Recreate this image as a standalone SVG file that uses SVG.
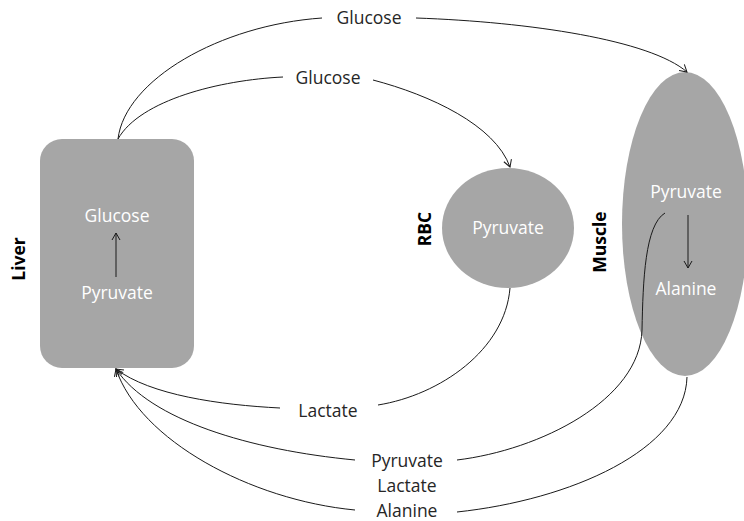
<svg xmlns="http://www.w3.org/2000/svg" width="744" height="521" viewBox="0 0 744 521">
<defs>
<style>
.shape{fill:#a6a6a6;}
.in{font-family:"Open Sans","Liberation Sans",sans-serif;font-size:17.5px;fill:#ffffff;text-anchor:middle;}
.lbl{font-family:"Open Sans","Liberation Sans",sans-serif;font-size:17.5px;fill:#262626;text-anchor:middle;}
.name{font-family:"Open Sans","Liberation Sans",sans-serif;font-size:17.5px;font-weight:bold;fill:#000;text-anchor:middle;}
.c{fill:none;stroke:#1a1a1a;stroke-width:1;}
</style>
<marker id="ah" markerWidth="12" markerHeight="12" refX="0" refY="0" viewBox="-8 -6 10 12" orient="auto" markerUnits="userSpaceOnUse">
<path d="M-7,-4 L0,0 L-7,4" fill="none" stroke="#1a1a1a" stroke-width="1"/>
</marker>
</defs>
<g id="liver">
<rect class="shape" x="40" y="139" width="154" height="229" rx="22"/>
<text class="in" x="117" y="222">Glucose</text>
<text class="in" x="117" y="299">Pyruvate</text>
<line class="c" x1="116" y1="277" x2="116" y2="233" marker-end="url(#ah)"/>
<text class="name" transform="translate(25,259) rotate(-90)">Liver</text>
</g>
<g id="rbc">
<ellipse class="shape" cx="508" cy="228" rx="66" ry="60"/>
<text class="in" x="508" y="234">Pyruvate</text>
<text class="name" transform="translate(431,229) rotate(-90)">RBC</text>
</g>
<g id="muscle">
<ellipse class="shape" cx="685" cy="224" rx="63" ry="152"/>
<text class="in" x="686" y="198">Pyruvate</text>
<text class="in" x="686" y="295">Alanine</text>
<line class="c" x1="688" y1="215" x2="688" y2="268" marker-end="url(#ah)"/>
<text class="name" transform="translate(606,242) rotate(-90)">Muscle</text>
</g>
<g id="connectors">
<path class="c" d="M118,139 C125,80 220,25 322,18"/>
<path class="c" d="M416,18 C530,22 650,40 687,72" marker-end="url(#ah)"/>
<path class="c" d="M118,139 C140,100 220,80 283,77"/>
<path class="c" d="M373,80 C430,95 495,125 510,167" marker-end="url(#ah)"/>
<path class="c" d="M510,288 C505,350 440,395 378,405"/>
<path class="c" d="M280,408 C220,405 150,395 116,369" marker-end="url(#ah)"/>
<path class="c" d="M665,213 C645,225 643,280 642,330 C640,400 540,450 457,460"/>
<path class="c" d="M355,460 C250,450 150,420 116,369" marker-end="url(#ah)"/>
<path class="c" d="M687,377 C685,450 570,500 457,512"/>
<path class="c" d="M355,510 C250,500 140,440 116,369" marker-end="url(#ah)"/>
</g>
<g id="labels">
<text class="lbl" x="369" y="24">Glucose</text>
<text class="lbl" x="328" y="84">Glucose</text>
<text class="lbl" x="328" y="417">Lactate</text>
<text class="lbl" x="407" y="467">Pyruvate</text>
<text class="lbl" x="407" y="492">Lactate</text>
<text class="lbl" x="407" y="517">Alanine</text>
</g>
</svg>
